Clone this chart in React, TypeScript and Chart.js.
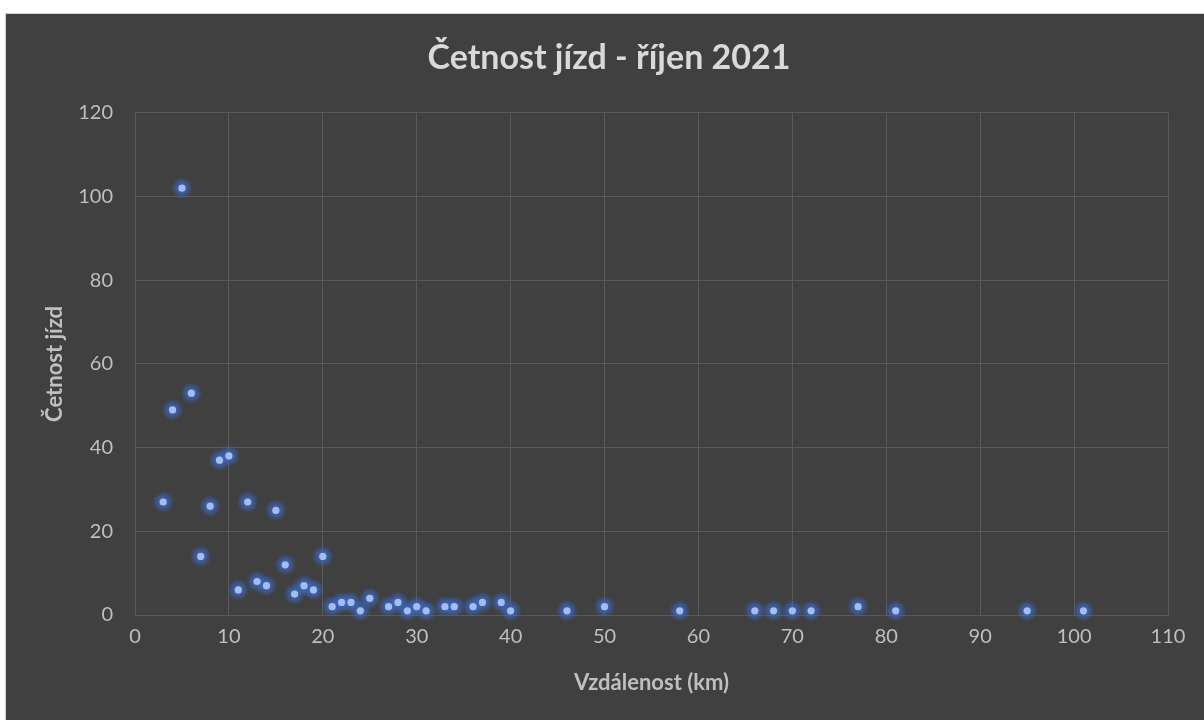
import React, { useEffect, useRef } from "react";
import { Chart, registerables } from "chart.js";

Chart.register(...registerables);

// Trip distance (km) and number of trips at that distance
const distances = [3, 4, 5, 6, 7, 8, 9, 10, 11, 12, 13, 14, 15, 16, 17, 18, 19, 20, 21, 22, 23, 24, 25, 27, 28, 29, 30, 31, 33, 34, 36, 37, 39, 40, 46, 50, 58, 66, 68, 70, 72, 77, 81, 95, 101];
const counts = [27, 49, 102, 53, 14, 26, 37, 38, 6, 27, 8, 7, 25, 12, 5, 7, 6, 14, 2, 3, 3, 1, 4, 2, 3, 1, 2, 1, 2, 2, 2, 3, 3, 1, 1, 2, 1, 1, 1, 1, 1, 2, 1, 1, 1];

const titleText = "Četnost jízd - říjen 2021";
const xTitle = "Vzdálenost (km)";
const yTitle = "Četnost jízd";

const FONT = "Lato, 'Open Sans', sans-serif";
const TEXT = "#bfbfbf";
const GRID = "#595959";

// Soft blue halo painted under each marker at its scaled position
const glowPlugin = {
  id: "markerGlow",
  beforeDatasetsDraw(chart: Chart) {
    const ctx = chart.ctx;
    const meta = chart.getDatasetMeta(0);
    ctx.save();
    for (const el of meta.data) {
      const { x, y } = el.getProps(["x", "y"], true) as { x: number; y: number };
      const g = ctx.createRadialGradient(x, y, 2, x, y, 11);
      g.addColorStop(0, "rgba(60, 105, 200, 0.95)");
      g.addColorStop(0.45, "rgba(60, 105, 200, 0.55)");
      g.addColorStop(1, "rgba(60, 105, 200, 0)");
      ctx.fillStyle = g;
      ctx.beginPath();
      ctx.arc(x, y, 11, 0, Math.PI * 2);
      ctx.fill();
    }
    ctx.restore();
  },
};

export default function App() {
  const canvasRef = useRef<HTMLCanvasElement>(null);

  useEffect(() => {
    if (!canvasRef.current) return;
    const points = distances.map((x, i) => ({ x, y: counts[i] }));
    const chart = new Chart(canvasRef.current, {
      type: "scatter",
      data: {
        datasets: [
          {
            data: points,
            pointRadius: 3.6,
            pointHoverRadius: 3.6,
            pointBackgroundColor: "#a3bdef",
            pointBorderWidth: 0,
            pointBorderColor: "rgba(0,0,0,0)",
          },
        ],
      },
      options: {
        animation: false,
        responsive: false,
        maintainAspectRatio: false,
        layout: { padding: { left: 44, right: 37, top: 24, bottom: 0 } },
        plugins: {
          legend: { display: false },
          tooltip: { enabled: false },
          title: {
            display: true,
            text: titleText,
            color: "#d9d9d9",
            font: { family: FONT, size: 34, weight: "bold" },
            padding: { top: 0, bottom: 34 },
          },
        },
        scales: {
          x: {
            type: "linear",
            min: 0,
            max: 110,
            afterFit: (scale: any) => {
              scale.height = 106;
            },
            ticks: {
              stepSize: 10,
              color: TEXT,
              font: { family: FONT, size: 20 },
              padding: 10,
            },
            grid: { color: GRID, lineWidth: 1, drawTicks: false },
            border: { color: GRID, width: 1 },
            title: {
              display: true,
              text: xTitle,
              color: TEXT,
              font: { family: FONT, size: 22, weight: "bold" },
              padding: { top: 0, bottom: 25 },
            },
          },
          y: {
            type: "linear",
            min: 0,
            max: 120,
            afterFit: (scale: any) => {
              scale.width = 85;
            },
            ticks: {
              stepSize: 20,
              color: TEXT,
              font: { family: FONT, size: 20 },
              padding: 22,
            },
            grid: { color: GRID, lineWidth: 1, drawTicks: false },
            border: { color: GRID, width: 1 },
            title: {
              display: true,
              text: yTitle,
              color: TEXT,
              font: { family: FONT, size: 22, weight: "bold" },
              padding: { top: -8, bottom: 0 },
            },
          },
        },
      },
      plugins: [glowPlugin],
    });
    return () => chart.destroy();
  }, []);

  return (
    <div style={{ position: "fixed", left: 0, top: 0, width: 1204, height: 720, background: "#ffffff", overflow: "hidden" }}>
      <div
        style={{
          position: "absolute",
          left: 5,
          top: 13,
          width: 1199,
          height: 707,
          background: "#404040",
          borderTop: "1px solid #d0d0d0",
          borderLeft: "1px solid #d0d0d0",
        }}
      >
        <canvas ref={canvasRef} width={1199} height={707} style={{ display: "block" }} />
      </div>
    </div>
  );
}
